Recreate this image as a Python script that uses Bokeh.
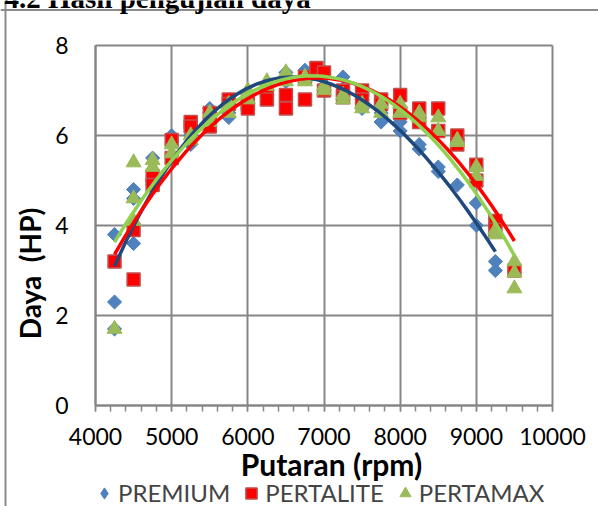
import numpy as np
from bokeh.plotting import figure
from bokeh.models import FixedTicker, Legend, LegendItem, Label, Span, Grid
from bokeh.embed import file_html
from bokeh.resources import INLINE

# ---------------- data ----------------
x_ticks = [4000, 5000, 6000, 7000, 8000, 9000, 10000]
x_minor = list(range(4000, 10001, 200))
y_ticks = [0, 2, 4, 6, 8]

premium_rpm = [4250, 4250, 4250, 4500, 4500, 4500, 4750, 4750, 5000, 5000,
               5250, 5250, 5500, 5500, 5750, 5750, 6000, 6000, 6250, 6250,
               6500, 6500, 6750, 6750, 7000, 7000, 7250, 7250, 7500, 7500,
               7750, 7750, 8000, 8000, 8250, 8250, 8500, 8500, 8750, 9000,
               9000, 9250, 9250]
premium_hp = [3.8, 2.3, 1.7, 4.8, 4.6, 3.6, 5.5, 4.9, 6.0, 5.5,
              5.8, 6.0, 6.6, 6.5, 6.4, 6.5, 6.9, 6.7, 7.1, 7.0,
              7.4, 7.2, 7.45, 7.3, 7.3, 7.1, 7.3, 6.9, 6.8, 6.6,
              6.3, 6.5, 6.1, 6.3, 5.8, 5.7, 5.2, 5.3, 4.9, 4.5,
              4.0, 3.2, 3.0]

pertalite_rpm = [4250, 4500, 4500, 4750, 4750, 5000, 5000, 5250, 5250, 5500,
                 5500, 5750, 5750, 6000, 6000, 6250, 6250, 6500, 6500, 6750,
                 6750, 6900, 7000, 7000, 7250, 7250, 7500, 7500, 7750, 7750,
                 8000, 8000, 8250, 8250, 8500, 8500, 8750, 8750, 9000, 9000,
                 9250, 9250, 9500]
pertalite_hp = [3.2, 3.9, 2.8, 5.1, 4.9, 5.9, 5.5, 6.3, 6.2, 6.5,
                6.2, 6.8, 6.7, 6.7, 6.6, 7.0, 6.8, 6.9, 6.6, 7.3,
                6.8, 7.5, 7.4, 7.0, 7.0, 6.85, 7.0, 6.8, 6.8, 6.7,
                6.9, 6.5, 6.6, 6.3, 6.6, 6.1, 6.0, 5.8, 5.35, 5.0,
                4.1, 3.9, 3.0]

pertamax_rpm = [4250, 4500, 4500, 4500, 4750, 4750, 5000, 5000, 5250, 5250,
                5500, 5500, 5750, 5750, 6000, 6000, 6250, 6250, 6500, 6500,
                6750, 6750, 7000, 7000, 7250, 7250, 7500, 7500, 7750, 7750,
                8000, 8000, 8250, 8250, 8500, 8500, 8750, 8750, 9000, 9000,
                9250, 9250, 9500, 9500, 9500]
pertamax_hp = [1.7, 5.4, 4.6, 4.1, 5.45, 5.3, 5.8, 5.6, 6.0, 5.9,
               6.5, 6.3, 6.7, 6.5, 7.0, 6.8, 7.2, 7.1, 7.4, 7.2,
               7.3, 7.2, 7.1, 7.0, 6.9, 6.8, 6.6, 6.7, 6.7, 6.5,
               6.7, 6.5, 6.5, 6.4, 6.4, 6.1, 5.85, 5.9, 5.3, 5.1,
               3.9, 3.8, 3.2, 2.95, 2.6]

series_names = ["PREMIUM", "PERTALITE", "PERTAMAX"]
heading_text = "4.2 Hasil pengujian daya"
x_title = "Putaran (rpm)"
y_title = "Daya\u00a0 (HP)"

# ---------------- layout ----------------
W, H = 598, 506
FL, FR, FT, FB = 95, 552, 45, 405      # plot-area edges in window px
X0, X1, Y0, Y1 = 4000, 10000, 0, 8


def px_x(px):
    return X0 + (px - FL) * (X1 - X0) / (FR - FL)


def px_y(py):
    return Y0 + (FB - py) * (Y1 - Y0) / (FB - FT)


FONT = "Lato"
GRID = "#868686"
BORDER = "#8c8c8c"
C_PREM, C_PERT, C_PMAX = "#4F81BD", "#FF0000", "#9BBB59"

# the frame fills the whole canvas; axes sit at fixed data locations
p = figure(width=W, height=H, title=None,
           x_range=(px_x(0), px_x(W)), y_range=(px_y(H), px_y(0)),
           output_backend="svg", toolbar_location=None,
           min_border_left=0, min_border_right=0, min_border_top=0, min_border_bottom=0)
p.background_fill_color = "white"
p.border_fill_color = "white"
p.outline_line_color = None

# axes
p.xaxis.fixed_location = Y0
p.yaxis.fixed_location = X0
p.xaxis.bounds = (X0, X1)
p.yaxis.bounds = (Y0, Y1)
p.xaxis.ticker = FixedTicker(ticks=x_ticks, minor_ticks=x_minor)
p.yaxis.ticker = FixedTicker(ticks=y_ticks)
for ax in (p.xaxis, p.yaxis):
    ax.axis_line_color = GRID
    ax.axis_line_width = 2
    ax.major_tick_line_color = GRID
    ax.minor_tick_line_color = GRID
    ax.major_tick_line_width = 1.5
    ax.minor_tick_line_width = 1.5
    ax.major_label_text_font = FONT
    ax.major_label_text_font_size = "23px"
    ax.major_label_text_color = "black"
p.xaxis.major_tick_in = 0
p.xaxis.major_tick_out = 6
p.xaxis.minor_tick_in = 0
p.xaxis.minor_tick_out = 6
p.xaxis.major_label_standoff = 16
p.yaxis.major_tick_in = 0
p.yaxis.major_tick_out = 0
p.yaxis.minor_tick_line_color = None
p.yaxis.major_label_standoff = 27

# grid lines limited to the plot area
p.xgrid.ticker = FixedTicker(ticks=x_ticks)
p.ygrid.ticker = FixedTicker(ticks=y_ticks)
p.xgrid.bounds = (X0, X1)
p.ygrid.bounds = (Y0, Y1)
for g in (p.xgrid, p.ygrid):
    g.grid_line_color = GRID
    g.grid_line_width = 2
if "cross_bounds" in Grid.properties():
    p.xgrid.cross_bounds = (Y0, Y1)
    p.ygrid.cross_bounds = (X0, X1)
else:
    for g in (p.xgrid, p.ygrid):
        g.grid_line_color = None
    p.segment(x0=x_ticks, x1=x_ticks, y0=[Y0] * len(x_ticks), y1=[Y1] * len(x_ticks),
              line_color=GRID, line_width=2)
    p.segment(x0=[X0] * len(y_ticks), x1=[X1] * len(y_ticks), y0=y_ticks, y1=y_ticks,
              line_color=GRID, line_width=2)

# outer chart border: left and top edges (the others lie outside the window)
p.add_layout(Span(location=px_x(5), dimension="height", line_color=BORDER, line_width=2))
p.add_layout(Span(location=px_y(9.5), dimension="width", line_color=BORDER, line_width=2))

# diamond-shaped copy of the first PREMIUM point, hidden under the data marker,
# used as the legend symbol
r_prem_key = p.scatter(premium_rpm[:1], premium_hp[:1], marker="diamond", size=12,
                       fill_color=C_PREM, line_color=C_PREM)

# markers
r_prem = p.scatter(premium_rpm, premium_hp, marker="square", angle=np.pi / 4,
                   size=10, fill_color=C_PREM, line_color=C_PREM)
r_pert = p.scatter(pertalite_rpm, pertalite_hp, marker="square", size=13,
                   fill_color=C_PERT, line_color="#C0504D", line_width=1.5)
r_pmax = p.scatter(pertamax_rpm, pertamax_hp, marker="triangle", size=15,
                   fill_color=C_PMAX, line_color=C_PMAX)

# polynomial trend lines fitted to each series
for xs, ys, col in ((premium_rpm, premium_hp, "#1F497D"),
                    (pertalite_rpm, pertalite_hp, "#FF0000"),
                    (pertamax_rpm, pertamax_hp, "#92D050")):
    c = np.polyfit(xs, ys, 3)
    tx = np.linspace(min(xs), max(xs), 120)
    p.line(tx, np.polyval(c, tx), line_color=col, line_width=3.5)

# texts
p.add_layout(Label(x=px_x(4), y=px_y(-3), text=heading_text,
                   text_align="left", text_baseline="alphabetic",
                   text_font="Liberation Serif", text_font_style="bold",
                   text_font_size="29px", text_color="black"))
p.add_layout(Label(x=px_x(29), y=px_y(273), text=y_title, angle=np.pi / 2,
                   text_align="center", text_baseline="middle",
                   text_font=FONT, text_font_style="bold", text_font_size="28px",
                   text_color="black"))
p.add_layout(Label(x=px_x(331), y=px_y(463), text=x_title,
                   text_align="center", text_baseline="middle",
                   text_font=FONT, text_font_style="bold", text_font_size="30px",
                   text_color="black"))

# legend below the plot area
legend = Legend(items=[LegendItem(label=series_names[0], renderers=[r_prem_key]),
                       LegendItem(label=series_names[1], renderers=[r_pert]),
                       LegendItem(label=series_names[2], renderers=[r_pmax])],
                orientation="horizontal", location=(90, -1))
legend.label_text_font = FONT
legend.label_text_font_size = "24px"
legend.glyph_width = 28
legend.glyph_height = 28
legend.spacing = 7
legend.label_standoff = 0
legend.padding = 0
legend.margin = 0
legend.border_line_color = None
legend.background_fill_alpha = 0
p.add_layout(legend, "center")

open("out.html", "w").write(file_html(p, INLINE))
